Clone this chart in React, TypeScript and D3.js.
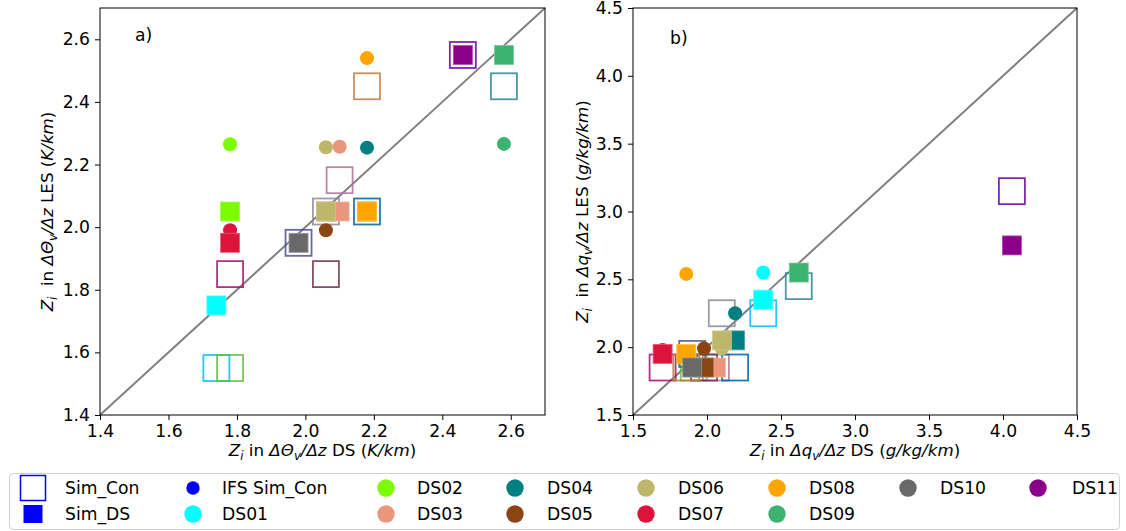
import React, { useEffect, useRef } from "react";
import * as d3 from "d3";

const datasets = ["DS01", "DS02", "DS03", "DS04", "DS05", "DS06", "DS07", "DS08", "DS09", "DS10", "DS11"];
const dsColors = ["#00ffff", "#7cfc00", "#e9967a", "#008080", "#8b4513", "#bdb76b", "#dc143c", "#ffa500", "#3cb371", "#696969", "#8b008b"];

// panel a) inversion height from the theta_v gradient (K/km)
const thetaDS = [1.74, 1.78, 2.1, 2.18, 2.06, 2.06, 1.78, 2.18, 2.58, 1.98, 2.46];
const thetaLesCon = [1.55, 1.55, 2.15, 2.05, 1.85, 2.05, 1.85, 2.45, 2.45, 1.95, 2.55];
const thetaLesSimDS = [1.75, 2.05, 2.05, 2.05, 2.05, 2.05, 1.95, 2.05, 2.55, 1.95, 2.55];
const thetaLesIFS = [1.75, 2.265, 2.257, 2.254, 1.99, 2.255, 1.99, 2.54, 2.266, 1.95, 2.55];
const thetaTicks = [1.4, 1.6, 1.8, 2.0, 2.2, 2.4, 2.6];

// panel b) inversion height from the q_v gradient (g/kg/km)
const qDS = [2.38, 1.91, 2.06, 2.19, 1.98, 2.1, 1.7, 1.86, 2.62, 1.9, 4.06];
const qLesCon = [2.25, 1.85, 1.85, 1.85, 1.85, 2.25, 1.85, 1.85, 2.45, 1.95, 3.15];
const qLesSimDS = [2.35, 1.85, 1.85, 2.05, 1.85, 2.05, 1.95, 1.95, 2.55, 1.85, 2.75];
const qLesIFS = [2.55, 1.85, 1.85, 2.25, 1.99, 1.99, 1.98, 2.54, 2.55, 1.85, 2.75];
const qTicks = [1.5, 2.0, 2.5, 3.0, 3.5, 4.0, 4.5];

const legendLabels = ["Sim_Con", "Sim_DS", "IFS Sim_Con", ...datasets];

type Part = { t: string; it?: boolean; sub?: boolean };

const FONT = "DejaVu Sans";
const FS = 17.2;
const LFS = 16.7;

function mathText(sel: any, parts: Part[]) {
  let shifted = false;
  parts.forEach((p) => {
    const dy = (p.sub ? 4 : 0) - (shifted ? 4 : 0);
    sel
      .append("tspan")
      .attr("dy", dy)
      .attr("font-style", p.it ? "italic" : "normal")
      .attr("font-size", p.sub ? LFS * 0.7 : LFS)
      .text(p.t);
    shifted = !!p.sub;
  });
}

function drawPanel(svg: any, o: any) {
  const x = d3.scaleLinear().domain(o.domain).range([o.left, o.right]);
  const y = d3.scaleLinear().domain(o.domain).range([o.bottom, o.top]);
  const g = svg.append("g");

  // 1:1 line
  g.append("line")
    .attr("x1", x(o.domain[0]))
    .attr("y1", y(o.domain[0]))
    .attr("x2", x(o.domain[1]))
    .attr("y2", y(o.domain[1]))
    .attr("stroke", "#808080")
    .attr("stroke-width", 2);

  const idx = d3.range(datasets.length);

  // Sim_Con: open squares
  const so = 26;
  g.selectAll(".con")
    .data(idx)
    .join("rect")
    .attr("x", (i: number) => x(o.ds[i]) - so / 2)
    .attr("y", (i: number) => y(o.con[i]) - so / 2)
    .attr("width", so)
    .attr("height", so)
    .attr("fill", "none")
    .attr("stroke", (i: number) => d3.interpolateRgb(dsColors[i], "#0000ff")(0.25))
    .attr("stroke-opacity", 0.85)
    .attr("stroke-width", 1.8);

  // IFS Sim_Con: circles
  g.selectAll(".ifs")
    .data(idx)
    .join("circle")
    .attr("cx", (i: number) => x(o.ds[i]))
    .attr("cy", (i: number) => y(o.ifs[i]))
    .attr("r", 7)
    .attr("fill", (i: number) => dsColors[i]);

  // Sim_DS: filled squares
  const sf = 19;
  g.selectAll(".sds")
    .data(idx)
    .join("rect")
    .attr("x", (i: number) => x(o.ds[i]) - sf / 2)
    .attr("y", (i: number) => y(o.simds[i]) - sf / 2)
    .attr("width", sf)
    .attr("height", sf)
    .attr("fill", (i: number) => dsColors[i])
    .attr("stroke", (i: number) => d3.interpolateRgb(dsColors[i], "#ffffff")(0.3))
    .attr("stroke-width", 0.8);

  // frame
  g.append("rect")
    .attr("x", o.left)
    .attr("y", o.top)
    .attr("width", o.right - o.left)
    .attr("height", o.bottom - o.top)
    .attr("fill", "none")
    .attr("stroke", "#000")
    .attr("stroke-width", 1);

  const fmt = d3.format(".1f");
  const ax = g
    .append("g")
    .attr("transform", `translate(0,${o.bottom})`)
    .call(d3.axisBottom(x).tickValues(o.ticks).tickFormat(fmt).tickSize(5).tickPadding(5).tickSizeOuter(0));
  const ay = g
    .append("g")
    .attr("transform", `translate(${o.left},0)`)
    .call(d3.axisLeft(y).tickValues(o.ticks).tickFormat(fmt).tickSize(5).tickPadding(5).tickSizeOuter(0));
  [ax, ay].forEach((a: any) => {
    a.select(".domain").remove();
    a.attr("font-family", FONT).attr("font-size", FS);
    a.selectAll("text").attr("fill", "#000");
    a.selectAll("line").attr("stroke", "#000");
  });

  const xl = g
    .append("text")
    .attr("x", (o.left + o.right) / 2)
    .attr("y", 456)
    .attr("text-anchor", "middle")
    .attr("font-family", FONT)
    .style("white-space", "pre");
  mathText(xl, o.xlabel);

  const yl = g
    .append("text")
    .attr("transform", `translate(${o.ylabelX},${(o.top + o.bottom) / 2}) rotate(-90)`)
    .attr("text-anchor", "middle")
    .attr("font-family", FONT)
    .style("white-space", "pre");
  mathText(yl, o.ylabel);

  g.append("text")
    .attr("x", o.tagX)
    .attr("y", o.tagY)
    .attr("font-family", FONT)
    .attr("font-size", FS)
    .text(o.tag);
}

export default function App() {
  const svgRef = useRef<SVGSVGElement | null>(null);

  useEffect(() => {
    if (!svgRef.current) return;
    const width = 1126;
    const height = 531;
    d3.select(svgRef.current).selectAll("*").remove();
    const svg = d3
      .select(svgRef.current)
      .attr("width", width)
      .attr("height", height)
      .attr("viewBox", `0 0 ${width} ${height}`);

    svg.append("rect").attr("width", width).attr("height", height).attr("fill", "#fff");

    drawPanel(svg, {
      domain: [1.4, 2.7],
      left: 100,
      right: 545,
      top: 8,
      bottom: 415,
      ticks: thetaTicks,
      ds: thetaDS,
      con: thetaLesCon,
      simds: thetaLesSimDS,
      ifs: thetaLesIFS,
      tag: "a)",
      tagX: 135,
      tagY: 41,
      ylabelX: 53,
      xlabel: [
        { t: "Z", it: true },
        { t: "i", it: true, sub: true },
        { t: " in " },
        { t: "ΔΘ", it: true },
        { t: "v", it: true, sub: true },
        { t: "/Δz", it: true },
        { t: " DS (" },
        { t: "K/km", it: true },
        { t: ")" },
      ],
      ylabel: [
        { t: "Z", it: true },
        { t: "i", it: true, sub: true },
        { t: "  in " },
        { t: "ΔΘ", it: true },
        { t: "v", it: true, sub: true },
        { t: "/Δz", it: true },
        { t: " LES (" },
        { t: "K/km", it: true },
        { t: ")" },
      ],
    });

    drawPanel(svg, {
      domain: [1.5, 4.5],
      left: 633,
      right: 1077,
      top: 8,
      bottom: 415,
      ticks: qTicks,
      ds: qDS,
      con: qLesCon,
      simds: qLesSimDS,
      ifs: qLesIFS,
      tag: "b)",
      tagX: 670,
      tagY: 44,
      ylabelX: 588,
      xlabel: [
        { t: "Z", it: true },
        { t: "i", it: true, sub: true },
        { t: " in " },
        { t: "Δq", it: true },
        { t: "v", it: true, sub: true },
        { t: "/Δz", it: true },
        { t: " DS (" },
        { t: "g/kg/km", it: true },
        { t: ")" },
      ],
      ylabel: [
        { t: "Z", it: true },
        { t: "i", it: true, sub: true },
        { t: "  in " },
        { t: "Δq", it: true },
        { t: "v", it: true, sub: true },
        { t: "/Δz", it: true },
        { t: " LES (" },
        { t: "g/kg/km", it: true },
        { t: ")" },
      ],
    });

    // legend
    const textX = [65, 222, 417, 547, 678, 809, 940, 1072];
    const markX = [33, 193, 386, 515, 646, 777, 908, 1038];
    const rowY = [488, 514];
    const lg = svg.append("g");
    lg.append("rect")
      .attr("x", 9.5)
      .attr("y", 473.5)
      .attr("width", 1110)
      .attr("height", 56)
      .attr("rx", 4)
      .attr("fill", "#fff")
      .attr("stroke", "#d0d0d0");

    legendLabels.forEach((label, i) => {
      const col = i < 12 ? Math.floor(i / 2) : 6 + (i - 12);
      const row = i < 12 ? i % 2 : 0;
      const cx = markX[col];
      const cy = rowY[row];
      if (i === 0) {
        lg.append("rect")
          .attr("x", cx - 12.5)
          .attr("y", cy - 12.5)
          .attr("width", 25)
          .attr("height", 25)
          .attr("fill", "none")
          .attr("stroke", "#0000ff")
          .attr("stroke-width", 1.5);
      } else if (i === 1) {
        lg.append("rect")
          .attr("x", cx - 9.5)
          .attr("y", cy - 9)
          .attr("width", 19)
          .attr("height", 18)
          .attr("fill", "#0000ff");
      } else {
        lg.append("circle")
          .attr("cx", cx)
          .attr("cy", cy)
          .attr("r", i === 2 ? 6.7 : 8.7)
          .attr("fill", i === 2 ? "#0000ff" : dsColors[i - 3]);
      }
      lg.append("text")
        .attr("x", textX[col])
        .attr("y", cy + 6)
        .attr("font-family", FONT)
        .attr("font-size", FS)
        .text(label);
    });
  }, []);

  return <svg ref={svgRef} style={{ position: "absolute", left: 0, top: 0 }} />;
}
